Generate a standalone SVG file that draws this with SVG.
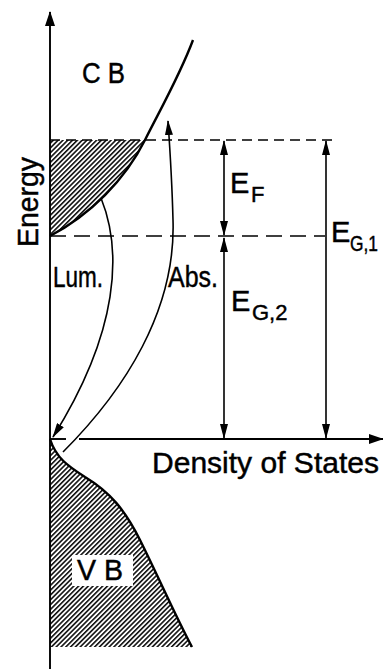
<svg xmlns="http://www.w3.org/2000/svg" width="383" height="669" viewBox="0 0 383 669">
<style>
text{font-family:"Liberation Sans",Arial,sans-serif;fill:#000;stroke:#000;stroke-width:0.45}
.t{font-size:29px}
.s{font-size:22px}
.ln{fill:none;stroke:#000;stroke-width:1.6}
.ax{fill:none;stroke:#000;stroke-width:1.9}
.cv{fill:none;stroke:#000;stroke-width:2.4}
.dash1{fill:none;stroke:#000;stroke-width:1.6;stroke-dasharray:10 6}
.dash2{fill:none;stroke:#000;stroke-width:1.6;stroke-dasharray:16 8}
</style>
<defs>
<pattern id="hatch" patternUnits="userSpaceOnUse" width="3.4" height="3.4" patternTransform="rotate(45)">
<line x1="0.8" y1="0" x2="0.8" y2="3.4" stroke="#000" stroke-width="1.5"/>
</pattern>
<marker id="ah" viewBox="0 0 15 8" refX="14" refY="4" markerWidth="15" markerHeight="8" markerUnits="userSpaceOnUse" orient="auto-start-reverse">
<path d="M0,0 L15,4 L0,8 Z" fill="#000"/>
</marker>
<marker id="axh" viewBox="0 0 15 10" refX="14" refY="5" markerWidth="15" markerHeight="10" markerUnits="userSpaceOnUse" orient="auto">
<path d="M0,0 L15,5 L0,10 Z" fill="#000"/>
</marker>
</defs>

<g id="cb-band">
<path d="M50,236 C90,215 125,180 145,140 L50,140 Z" fill="url(#hatch)"/>
<path class="cv" d="M50,236 C90,215 125,180 145,140 C160,110 180,75 193,40"/>
</g>

<g id="vb-band">
<path d="M50,439 C56,458 68,466 85,477 C110,492 125,510 140,540 C158,576 175,615 192,647 L50,647 Z" fill="url(#hatch)"/>
<path class="cv" d="M50,439 C56,458 68,466 85,477 C110,492 125,510 140,540 C158,576 175,615 192,647"/>
<rect x="72" y="555" width="61" height="31" fill="#fff"/>
<text class="t" x="77" y="580" textLength="46" lengthAdjust="spacingAndGlyphs">V B</text>
</g>

<g id="connectors">
<line class="ax" x1="50" y1="669" x2="50" y2="12" marker-end="url(#axh)"/>
<line class="ax" x1="50" y1="439" x2="66" y2="439"/>
<line class="ax" x1="79" y1="439" x2="383" y2="439" marker-end="url(#axh)"/>
<line class="dash1" x1="50" y1="140" x2="338" y2="140"/>
<line class="dash2" x1="50" y1="236" x2="325" y2="236"/>
<line class="ln" x1="224" y1="141" x2="224" y2="235" marker-start="url(#ah)" marker-end="url(#ah)"/>
<line class="ln" x1="224" y1="238" x2="224" y2="438" marker-start="url(#ah)" marker-end="url(#ah)"/>
<line class="ln" x1="326" y1="141" x2="326" y2="438" marker-start="url(#ah)" marker-end="url(#ah)"/>
<path class="ln" d="M101,198 C122,250 120,330 53,437" marker-end="url(#ah)"/>
<path class="ln" d="M63,452 C125,390 176,310 173,220 C172,180 170,150 168,121" marker-end="url(#ah)"/>
</g>

<g id="labels">
<text class="t" x="82" y="83" textLength="43" lengthAdjust="spacingAndGlyphs">C B</text>
<text class="t" transform="translate(38,247) rotate(-90)" textLength="90" lengthAdjust="spacingAndGlyphs">Energy</text>
<text class="t" x="230" y="193">E</text><text class="s" x="251" y="202">F</text>
<text class="t" x="331" y="242">E</text><text class="s" x="350" y="251" textLength="28" lengthAdjust="spacingAndGlyphs">G,1</text>
<text class="t" x="231" y="311">E</text><text class="s" x="252" y="320">G,2</text>
<text class="t" x="53" y="287" textLength="50" lengthAdjust="spacingAndGlyphs">Lum.</text>
<text class="t" x="168" y="287" textLength="50" lengthAdjust="spacingAndGlyphs">Abs.</text>
<text class="t" x="152" y="473" textLength="227" lengthAdjust="spacingAndGlyphs">Density of  States</text>
</g>
</svg>
